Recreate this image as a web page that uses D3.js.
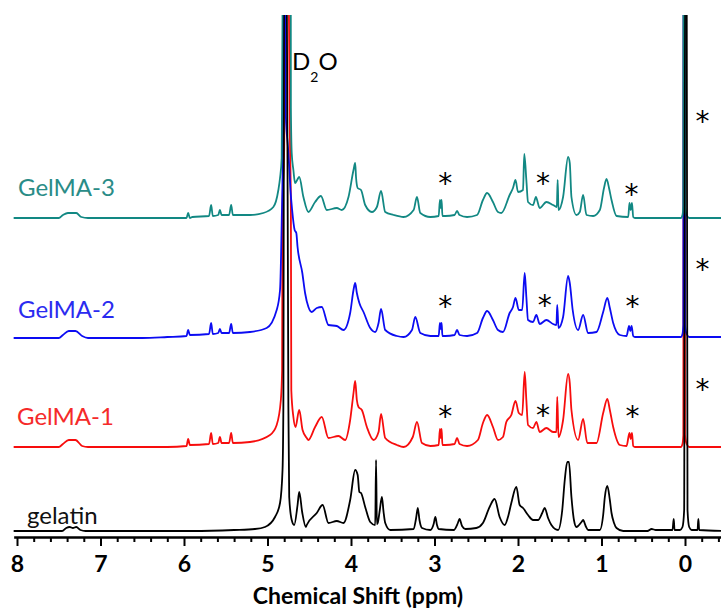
<!DOCTYPE html>
<html>
<head>
<meta charset="utf-8">
<script src="https://cdn.jsdelivr.net/npm/d3@7"></script>
<style>
  body { margin: 0; background: #fff; }
  svg { display: block; font-family: Lato, "Open Sans", sans-serif; }
  .major .tick text { font-weight: bold; font-size: 23px; fill: #000; }
  .tick line { stroke: #000; stroke-width: 2; }
  .domain { stroke: #000; stroke-width: 2.5; }
  .spectrum { fill: none; stroke-width: 1.8; stroke-linejoin: round; }
  .star { font-family: "DejaVu Sans", sans-serif; }
</style>
</head>
<body>
<div id="wrapper"></div>
<script>
// spectra as [chemical shift (ppm), intensity above own baseline]
const gelatin = [
  [8.04,-1],[7.46,-1],[7.41,2],[7.37,3],[7.33,2],[7.29,3],[7.24,0],[7.18,-1],[6.6,-1],[5.9,-1],[5.4,0],[5.15,1],
  [5.03,3],[4.91,13],[4.85,27],[4.82,60],[4.81,123],[4.8,560],[4.77,560],[4.75,123],[4.74,33],[4.71,10],[4.68,5],
  [4.64,25],[4.62,38],[4.585,18],[4.54,3],[4.53,5],[4.41,17],[4.34,25],[4.27,7],[4.17,9],[4.09,7],[4.01,30],[3.95,60],
  [3.92,55],[3.90,38],[3.88,37],[3.83,23],[3.77,8],[3.71,5],[3.70,70],[3.69,6],[3.68,7],[3.655,20],[3.63,33],[3.61,18],
  [3.59,7],[3.53,0],[3.25,1],[3.22,12],[3.20,22],[3.18,10],[3.15,2],[3.05,0],[3.01,6],[2.99,13],[2.97,5],[2.95,1],
  [2.77,0],[2.72,7],[2.70,11],[2.67,4],[2.63,1],[2.5,2],[2.42,7],[2.34,23],[2.28,31],[2.22,13],[2.16,5],[2.12,13],
  [2.08,27],[2.02,43],[1.98,25],[1.94,22],[1.88,15],[1.82,10],[1.76,10],[1.71,17],[1.68,22],[1.64,12],[1.60,5],
  [1.52,0],[1.47,20],[1.44,50],[1.41,68],[1.39,68],[1.36,33],[1.33,10],[1.30,3],[1.24,8],[1.22,10],[1.19,4],[1.16,0],
  [1.02,0],[0.98,15],[0.96,33],[0.93,44],[0.90,30],[0.88,17],[0.85,7],[0.82,2],[0.74,-1],[0.45,-1],[0.40,1],[0.35,0],
  [0.15,0],[0.135,11],[0.125,0],[0.06,0],[0.03,3],[0.01,20],[0.0,560],[-0.02,560],[-0.03,20],[-0.05,3],[-0.08,0],
  [-0.15,0],[-0.16,11],[-0.17,0],[-0.45,-1]
]

const gelma1 = [
  [8.04,0],[7.5,0],[7.45,3],[7.38,7],[7.30,7],[7.22,1],[7.15,0],[6.5,0],[6.2,0],[5.97,1],[5.95,8],[5.93,2],[5.70,3],
  [5.675,14],[5.655,3],[5.59,4],[5.57,10],[5.55,4],[5.46,4],[5.435,14],[5.415,4],[5.21,5],[4.97,12],[4.89,22],[4.84,47],
  [4.825,77],[4.82,240],[4.80,300],[4.79,560],[4.76,560],[4.73,300],[4.72,240],[4.715,57],[4.69,30],[4.665,20],
  [4.62,37],[4.58,17],[4.53,9],[4.51,7],[4.43,20],[4.35,30],[4.27,9],[4.15,11],[4.07,7],[4.01,27],[3.97,54],[3.95,66],
  [3.93,47],[3.91,40],[3.87,37],[3.81,20],[3.73,7],[3.67,15],[3.64,33],[3.59,9],[3.45,2],[3.37,0],[3.26,10],[3.21,25],
  [3.15,4],[3.05,1],[2.95,2],[2.935,18],[2.925,9],[2.915,18],[2.905,2],[2.87,2],[2.76,3],[2.73,9],[2.70,3],[2.61,1],
  [2.48,7],[2.42,24],[2.37,32],[2.30,20],[2.24,7],[2.18,10],[2.14,25],[2.08,32],[2.03,46],[1.99,34],[1.95,32],[1.92,75],
  [1.90,47],[1.88,22],[1.82,19],[1.78,25],[1.74,15],[1.66,19],[1.58,15],[1.54,15],[1.53,50],[1.515,10],[1.46,27],
  [1.40,73],[1.38,64],[1.36,37],[1.28,7],[1.22,28],[1.17,4],[1.06,4],[0.98,34],[0.93,48],[0.90,37],[0.86,20],[0.78,2],
  [0.70,1],[0.665,14],[0.65,8],[0.635,14],[0.62,1],[0.60,0],[0.05,0],[0.03,3],[0.02,12],[0.015,560],[0.005,560],
  [0.0,12],[-0.02,3],[-0.05,0],[-0.45,0]
]

const gelma2 = [
  [8.04,-1],[7.5,-1],[7.45,2],[7.38,6],[7.30,6],[7.22,1],[7.15,-1],[6.5,-1],[6.2,0],[5.97,1],[5.95,7],[5.93,2],
  [5.70,3],[5.675,14],[5.655,3],[5.59,4],[5.57,8],[5.55,4],[5.46,4],[5.435,13],[5.415,4],[5.21,5],[5.01,9],[4.89,27],
  [4.85,47],[4.83,114],[4.815,200],[4.805,560],[4.79,560],[4.78,220],[4.755,190],[4.74,170],[4.725,147],[4.705,127],
  [4.675,107],[4.655,104],[4.64,90],[4.583,64],[4.55,44],[4.51,30],[4.47,25],[4.41,29],[4.35,30],[4.27,12],[4.17,11],
  [4.09,7],[4.01,24],[3.97,47],[3.95,54],[3.93,44],[3.90,34],[3.85,25],[3.77,9],[3.71,5],[3.67,14],[3.64,28],[3.59,7],
  [3.45,1],[3.37,0],[3.27,7],[3.23,20],[3.17,4],[3.05,1],[2.95,1],[2.935,14],[2.925,8],[2.915,14],[2.905,1],[2.87,1],
  [2.76,2],[2.73,7],[2.70,2],[2.61,1],[2.49,4],[2.42,19],[2.37,26],[2.30,17],[2.24,7],[2.18,5],[2.10,24],[2.06,30],
  [2.03,39],[1.99,27],[1.95,27],[1.92,64],[1.90,40],[1.88,17],[1.82,15],[1.78,22],[1.74,13],[1.66,17],[1.58,13],
  [1.54,12],[1.53,32],[1.515,9],[1.46,20],[1.40,61],[1.38,54],[1.345,27],[1.28,7],[1.22,22],[1.16,4],[1.06,5],
  [0.98,25],[0.93,39],[0.90,29],[0.86,14],[0.78,2],[0.70,1],[0.67,11],[0.655,6],[0.64,11],[0.62,1],[0.60,0],[0.05,0],
  [0.03,3],[0.02,12],[0.015,560],[0.005,560],[0.0,12],[-0.02,3],[-0.05,0],[-0.45,0]
]

const gelma3 = [
  [8.04,0],[7.5,0],[7.45,3],[7.39,5],[7.29,5],[7.23,1],[7.15,0],[6.5,0],[5.97,0],[5.95,5],[5.93,0],[5.9,1],[5.70,2],
  [5.675,13],[5.655,2],[5.59,3],[5.57,8],[5.55,3],[5.46,3],[5.435,13],[5.415,3],[5.21,3],[5.05,5],[4.93,11],[4.87,28],
  [4.85,40],[4.83,60],[4.82,200],[4.815,560],[4.725,560],[4.72,110],[4.71,65],[4.69,48],[4.67,35],[4.645,38],[4.62,41],
  [4.57,21],[4.51,6],[4.43,16],[4.36,22],[4.29,8],[4.17,10],[4.11,8],[4.03,21],[3.97,48],[3.95,55],[3.94,41],[3.92,30],
  [3.88,28],[3.83,13],[3.75,6],[3.69,11],[3.64,27],[3.59,6],[3.49,3],[3.37,1],[3.25,8],[3.21,21],[3.17,5],[3.05,1],
  [2.95,2],[2.935,18],[2.925,10],[2.915,18],[2.905,2],[2.87,2],[2.76,3],[2.73,7],[2.70,3],[2.61,1],[2.49,3],[2.42,18],
  [2.37,25],[2.30,16],[2.24,6],[2.20,5],[2.10,23],[2.06,30],[2.03,38],[2.00,26],[1.94,28],[1.925,64],[1.90,38],
  [1.88,16],[1.82,13],[1.785,21],[1.775,19],[1.74,10],[1.66,16],[1.58,13],[1.535,11],[1.525,38],[1.515,8],[1.46,21],
  [1.40,61],[1.38,55],[1.36,21],[1.30,3],[1.26,6],[1.22,23],[1.18,3],[1.10,2],[1.02,8],[0.97,30],[0.94,39],[0.91,30],
  [0.88,18],[0.82,2],[0.68,1],[0.665,15],[0.65,8],[0.635,15],[0.62,1],[0.60,0],[0.05,0],[0.03,3],[0.02,12],
  [0.015,560],[0.005,560],[0.0,12],[-0.02,3],[-0.05,0],[-0.45,0]
]

const spectrumNames = ["gelatin", "GelMA-1", "GelMA-2", "GelMA-3"]
const spectrumColors = ["#000000", "#f70d0d", "#0c0cf2", "#128883"]
const labelColors = ["#111111", "#f52a2a", "#2b2bf0", "#2a8c87"]
const spectrumOffsets = [0, 83, 193, 312]
const spectrumData = [gelatin, gelma1, gelma2, gelma3]

// asterisk marks: spectrum index, shift (ppm), height above baseline
const starSpectrum = [3, 3, 3, 3, 2, 2, 2, 2, 1, 1, 1, 1]
const starShift = [2.87, 1.70, 0.64, -0.21, 2.87, 1.68, 0.63, -0.21, 2.87, 1.70, 0.63, -0.21]
const starHeight = [41, 41, 30, 103, 37, 38, 37, 74, 37, 38, 37, 64]

const majorTicks = d3.range(0, 9)
const minorTicks = d3.range(-2, 41).map(i => i / 5).filter(v => !Number.isInteger(v))

function drawSpectra() {

  // 1. Accessors

  const shiftAccessor = d => d[0]
  const intensityAccessor = d => d[1]

  // 2. Dimensions

  let dimensions = {
    width: 721,
    height: 610,
    axisY: 537,
    plotTop: 15,
  }

  // 3. Canvas

  const wrapper = d3.select("#wrapper")
    .append("svg")
      .attr("width", dimensions.width)
      .attr("height", dimensions.height)

  wrapper.append("defs").append("clipPath")
      .attr("id", "plot-clip")
    .append("rect")
      .attr("x", 0)
      .attr("y", dimensions.plotTop)
      .attr("width", dimensions.width)
      .attr("height", dimensions.axisY - dimensions.plotTop)

  // 4. Scales

  const xScale = d3.scaleLinear()
    .domain([8, 0])
    .range([17, 685])

  const yScale = d3.scaleLinear()
    .domain([0, 530])
    .range([530, 0])

  // 5. Spectra (red, blue, teal, then black on top)

  const bounds = wrapper.append("g")
      .attr("clip-path", "url(#plot-clip)")

  const drawOrder = [1, 2, 3, 0]
  drawOrder.forEach(i => {
    const lineGenerator = d3.line()
      .x(d => xScale(shiftAccessor(d)))
      .y(d => yScale(spectrumOffsets[i] + intensityAccessor(d)))
      .curve(d3.curveMonotoneX)

    bounds.append("path")
        .attr("class", "spectrum")
        .attr("d", lineGenerator(spectrumData[i]))
        .attr("stroke", spectrumColors[i])
  })

  // 6. Peripherals

  const axisScale = xScale.copy()
    .domain([8.04, -0.44])
    .range([xScale(8.04), xScale(-0.44)])

  const minorAxis = wrapper.append("g")
      .attr("transform", `translate(0, ${dimensions.axisY})`)
      .call(d3.axisBottom(axisScale)
        .tickValues(minorTicks)
        .tickSize(5)
        .tickFormat(""))
  minorAxis.select(".domain").remove()

  const majorAxis = wrapper.append("g")
      .attr("class", "major")
      .attr("transform", `translate(0, ${dimensions.axisY})`)
      .call(d3.axisBottom(axisScale)
        .tickValues(majorTicks)
        .tickSize(9)
        .tickSizeOuter(0)
        .tickPadding(10)
        .tickFormat(d3.format("d")))
  majorAxis.attr("font-family", null).attr("font-size", null)

  wrapper.append("text")
      .attr("x", 358)
      .attr("y", 604)
      .attr("text-anchor", "middle")
      .style("font-weight", "bold")
      .style("font-size", "23px")
      .text("Chemical Shift (ppm)")

  // spectrum labels
  const labelX = [27, 17, 18, 18]
  const labelLift = [6, 22, 19, 22]
  spectrumNames.forEach((name, i) => {
    wrapper.append("text")
        .attr("x", labelX[i])
        .attr("y", yScale(spectrumOffsets[i]) - labelLift[i])
        .style("font-size", "24px")
        .attr("fill", labelColors[i])
        .text(name)
  })

  // D2O label
  const d2o = wrapper.append("text")
      .attr("x", 292)
      .attr("y", 70)
      .style("font-size", "24px")
  d2o.append("tspan").text("D")
  d2o.append("tspan")
      .attr("dy", 12)
      .style("font-size", "14px")
      .text("2")
  d2o.append("tspan")
      .attr("dy", -12)
      .text("O")

  // asterisks
  const starSize = 28
  wrapper.selectAll(".star")
    .data(starShift)
    .enter().append("text")
      .attr("class", "star")
      .attr("x", d => xScale(d))
      .attr("y", (d, i) => yScale(spectrumOffsets[starSpectrum[i]] + starHeight[i]) + starSize * 0.57)
      .attr("text-anchor", "middle")
      .style("font-size", `${starSize}px`)
      .text("*")
}
drawSpectra()
</script>
</body>
</html>
